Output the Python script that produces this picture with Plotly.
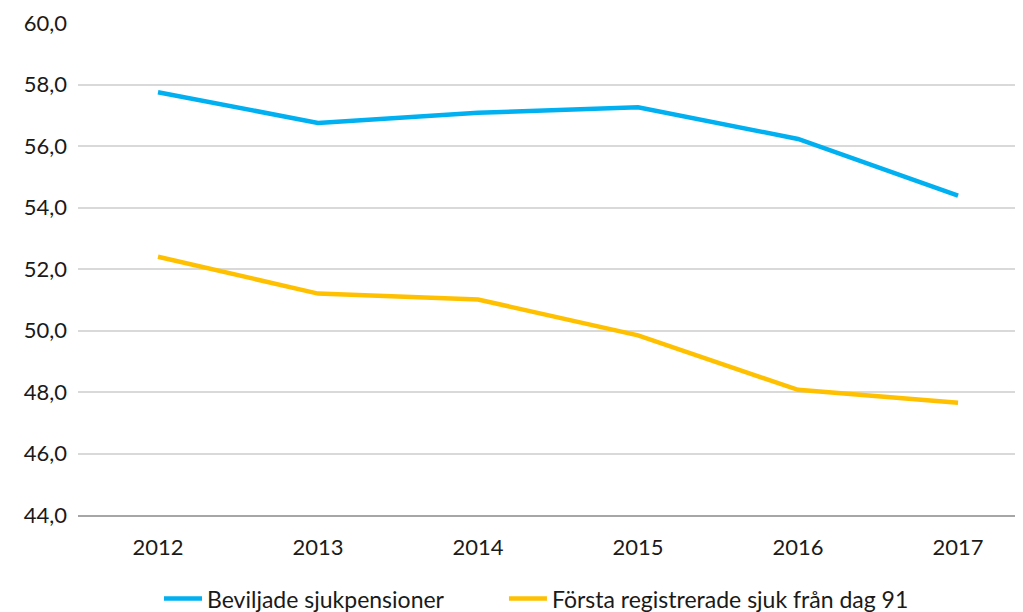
import plotly.graph_objects as go

years = ["2012", "2013", "2014", "2015", "2016", "2017"]
beviljade = [57.75, 56.75, 57.08, 57.26, 56.23, 54.39]
forsta = [52.40, 51.20, 51.01, 49.84, 48.07, 47.65]
y_ticks = [44, 46, 48, 50, 52, 54, 56, 58, 60]

font_family = "Lato, 'Open Sans', sans-serif"
text_color = "#1a1a1a"

fig = go.Figure()
fig.add_trace(go.Scatter(x=years, y=beviljade, mode="lines", name="Beviljade sjukpensioner",
                         line=dict(color="#00B0F0", width=4.5), legend="legend"))
fig.add_trace(go.Scatter(x=years, y=forsta, mode="lines", name="Första registrerade sjuk från dag 91",
                         line=dict(color="#FFC000", width=4.5), legend="legend2"))

leg_common = dict(orientation="h", xanchor="left", xref="container",
                  y=0.035, yanchor="middle", yref="container",
                  font=dict(size=23, color=text_color), itemwidth=38,
                  bgcolor="rgba(0,0,0,0)")

fig.update_layout(
    width=1023, height=612,
    margin=dict(l=70, r=0, t=14.5, b=105, autoexpand=False),
    paper_bgcolor="white", plot_bgcolor="white",
    separators=",.",
    font=dict(family=font_family, size=22, color=text_color),
    showlegend=True,
    legend=dict(x=0.1476, **leg_common),
    legend2=dict(x=0.4848, **leg_common),
)
fig.update_xaxes(type="category", range=[-0.5, 5.456], showgrid=False, automargin=False,
                 showline=True, linecolor="#A6A6A6", linewidth=1.5,
                 ticks="", tickfont=dict(size=22), ticklabelstandoff=12)
fig.update_yaxes(range=[44, 60], tickvals=y_ticks, tickformat=".1f", automargin=False,
                 showgrid=True, gridcolor="#D9D9D9", gridwidth=1.5,
                 zeroline=False, ticks="", tickfont=dict(size=22), ticklabelstandoff=10)

fig.write_html("out.html")
